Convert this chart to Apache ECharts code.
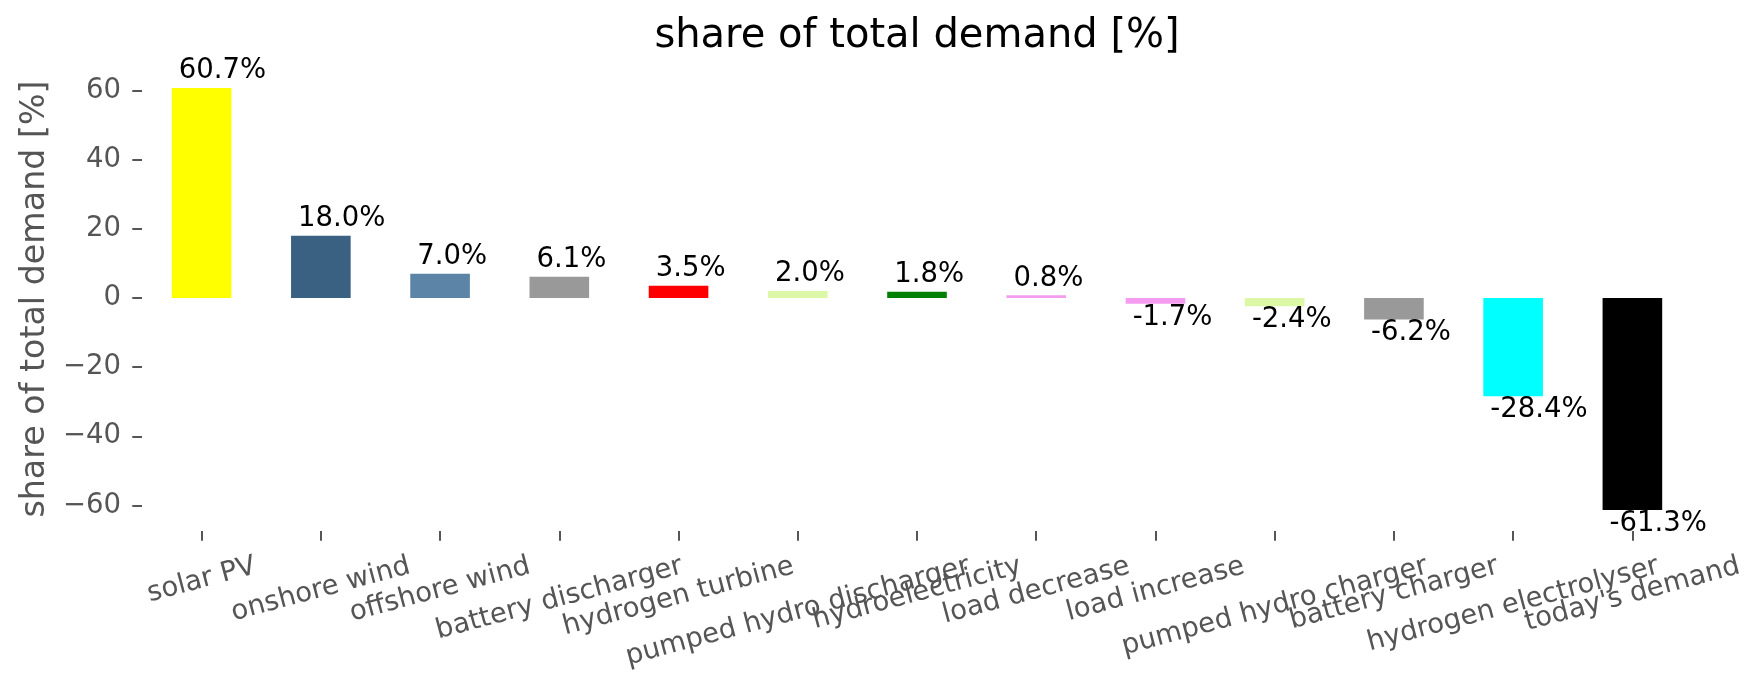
<!DOCTYPE html>
<html>
<head>
<meta charset="utf-8">
<script src="https://cdn.jsdelivr.net/npm/echarts@6/dist/echarts.min.js"></script>
<style>
html,body{margin:0;padding:0;background:#ffffff;}
#chart{width:1764px;height:689px;}
</style>
</head>
<body>
<div id="chart"></div>
<script>
// ---------------- data ----------------
const categories = ['solar PV', 'onshore wind', 'offshore wind', 'battery discharger', 'hydrogen turbine',
  'pumped hydro discharger', 'hydroelectricity', 'load decrease', 'load increase',
  'pumped hydro charger', 'battery charger', 'hydrogen electrolyser', "today's demand"];
const shares = [60.7, 18.0, 7.0, 6.1, 3.5, 2.0, 1.8, 0.8, -1.7, -2.4, -6.2, -28.4, -61.3];
const barColors = ['#ffff00', '#3b6182', '#5b84a6', '#999999', '#ff0000', '#dcf7a6', '#008000',
  '#f39cf0', '#f39cf0', '#dcf7a6', '#999999', '#00ffff', '#000000'];
const yTicks = [-60, -40, -20, 0, 20, 40, 60];
const yMin = -67.4;
const yMax = 66.8;
const titleText = 'share of total demand [%]';
const yAxisName = 'share of total demand [%]';

// ---------------- layout ----------------
const FONT = '"DejaVu Sans", Verdana, sans-serif';
const W = 1764;
const gridLeft = 142, gridRight = 72, gridTop = 67, gridBottom = 158;
const tickFS = 27.5;
const tickLH = 32;
const rot = 15 * Math.PI / 180;
const tickLen = 9.7;
const catWidth = (W - gridLeft - gridRight) / categories.length;
const barHalf = catWidth * 0.5 / 2;

// matplotlib-like centred rotated tick labels: shift each label so its rotated bbox
// sits centred under its tick, starting just below the tick mark
const mctx = document.createElement('canvas').getContext('2d');
mctx.font = tickFS + 'px "DejaVu Sans"';
const hM = 1.164 * tickFS;
const xData = categories.map(function (c) {
  const w = mctx.measureText(c).width;
  const D = (w * Math.sin(rot) + hM * Math.cos(rot)) / 2;
  return {
    value: c,
    textStyle: {
      align: 'center',
      verticalAlign: 'top',
      padding: [D * Math.cos(rot) - tickLH / 2, 2 * D * Math.sin(rot), 0, 0]
    }
  };
});

const seriesData = shares.map(function (v, i) {
  return {
    value: v,
    itemStyle: { color: barColors[i] },
    label: v >= 0 ? { position: 'top', distance: 3 } : { position: 'bottom', distance: 0 }
  };
});

const chart = echarts.init(document.getElementById('chart'), null, { renderer: 'canvas' });
chart.setOption({
  backgroundColor: '#ffffff',
  animation: false,
  textStyle: { fontFamily: FONT },
  title: {
    text: titleText,
    left: gridLeft + (W - gridLeft - gridRight) / 2,
    top: 17,
    textAlign: 'center',
    padding: 0,
    textStyle: { fontSize: 40, fontWeight: 'normal', color: '#000000', fontFamily: FONT, lineHeight: 40 }
  },
  grid: {
    left: gridLeft, right: gridRight, top: gridTop, bottom: gridBottom,
    containLabel: false, outerBoundsMode: 'none'
  },
  xAxis: {
    type: 'category',
    data: xData,
    boundaryGap: true,
    axisLine: { show: false, onZero: false },
    axisTick: { show: true, alignWithLabel: true, length: tickLen, lineStyle: { color: '#555555', width: 2 } },
    splitLine: { show: false },
    axisLabel: {
      interval: 0,
      rotate: 15,
      margin: tickLen + 9.7,
      color: '#555555',
      fontSize: tickFS,
      fontFamily: FONT,
      lineHeight: tickLH
    }
  },
  yAxis: {
    type: 'value',
    min: yMin,
    max: yMax,
    name: yAxisName,
    nameLocation: 'middle',
    nameGap: 107,
    nameTextStyle: { fontSize: 33.3, color: '#555555', fontFamily: FONT, verticalAlign: 'middle' },
    axisLine: { show: false },
    axisTick: { show: true, length: tickLen, customValues: yTicks, lineStyle: { color: '#555555', width: 2 } },
    splitLine: { show: false },
    axisLabel: {
      customValues: yTicks,
      margin: 21,
      fontSize: tickFS,
      color: '#555555',
      fontFamily: FONT,
      formatter: function (v) { return String(v).replace('-', '\u2212'); }
    }
  },
  series: [{
    type: 'bar',
    data: seriesData,
    barWidth: '50%',
    label: {
      show: true,
      fontSize: 27.5,
      lineHeight: 27.5,
      color: '#000000',
      fontFamily: FONT,
      align: 'left',
      offset: [-barHalf + 7, 0],
      formatter: function (p) { return p.value.toFixed(1) + '%'; }
    }
  }]
});
</script>
</body>
</html>
